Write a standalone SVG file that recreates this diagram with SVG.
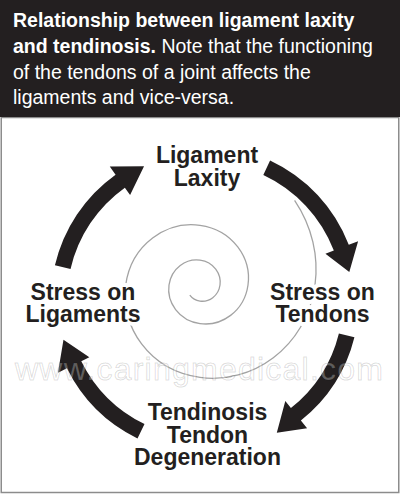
<svg xmlns="http://www.w3.org/2000/svg" width="400" height="494" viewBox="0 0 400 494">
  <style>
    .hdr { font-family: "Liberation Sans", Arial, sans-serif; font-size: 19.5px; fill: #ffffff; }
    .b { font-weight: bold; }
    .lbl { font-family: "Liberation Sans", Arial, sans-serif; font-size: 23px; font-weight: bold; fill: #231f20; text-anchor: middle; }
    .halo { stroke: #ffffff; stroke-width: 8; stroke-linejoin: round; paint-order: stroke; }
    .arrow { fill: #231f20; stroke: none; }
    .spiral { fill: none; stroke: #a3a3a3; stroke-width: 1.3; }
    .wm { font-family: "Liberation Sans", Arial, sans-serif; font-size: 32px; fill: #ffffff; fill-opacity: 0.3; stroke: #000000; stroke-opacity: 0.14; stroke-width: 1; }
  </style>

  <rect x="0" y="0" width="400" height="494" fill="#ffffff"/>
  <rect x="1.25" y="117.5" width="397.5" height="375" fill="#ffffff" stroke="#8c8c8c" stroke-width="1.5"/>

  <g id="header">
    <rect x="0" y="0" width="400" height="117" fill="#231f20"/>
    <text class="hdr" x="13" y="27"><tspan class="b">Relationship between ligament laxity</tspan><tspan x="13" dy="25.5" class="b">and tendinosis.</tspan> Note that the functioning<tspan x="13" dy="26">of the tendons of a joint affects the</tspan><tspan x="13" dy="25.5">ligaments and vice-versa.</tspan></text>
  </g>

  <path id="spiral" class="spiral" d="M189.8,295.2 C192.1,298.3 195.7,300.5 200,301.1 C208.9,302.3 218.5,296.1 220,285 C221.5,274 213.8,262 200,260.1 C186.3,258.2 171.4,267.9 169,285 C166.6,302.1 178.7,320.6 200,323.6 C221.3,326.6 244.3,311.5 248,285 C251.7,258.5 233,229.9 200,225.3 C167,220.7 131.4,244 125.7,285 C120,326 149,370.3 200,377.4 C251,384.5 306.2,348.5 315,285 C318.9,256.7 312.2,226.5 294.6,200.3"/>

  <g id="connectors">
    <path id="arrow-laxity-to-tendons" class="arrow" d="M270.08,160.43 A154,154 0 0,1 348.77,244.81 L358.11,241.22 L349.3,271.95 L325.43,253.77 L333.84,250.54 A138,138 0 0,0 263.32,174.93 Z"/>
    <path id="arrow-tendons-to-tendinosis" class="arrow" d="M354.43,337.25 A154,154 0 0,1 300.87,420.52 L307.09,428.35 L276.8,432.8 L285.3,400.96 L290.91,408 A138,138 0 0,0 338.9,333.38 Z"/>
    <path id="arrow-tendinosis-to-ligaments" class="arrow" d="M137.49,438.42 A154,154 0 0,1 66.94,368.24 L57.97,372.67 L63.48,339.78 L89.35,357.16 L81.28,361.15 A138,138 0 0,0 144.5,424.03 Z"/>
    <path id="arrow-ligaments-to-laxity" class="arrow" d="M54.94,265.35 A154,154 0 0,1 115.57,174.63 L109.77,166.49 L144.04,166.23 L130.09,194.98 L124.86,187.65 A138,138 0 0,0 70.53,268.95 Z"/>
  </g>

  <g id="node-ligament-laxity">
    <text class="lbl" x="207" y="162.5">Ligament<tspan x="207" dy="23">Laxity</tspan></text>
  </g>
  <g id="node-stress-tendons">
    <text class="lbl halo" x="322.5" y="300">Stress on<tspan x="322.5" dy="22">Tendons</tspan></text>
  </g>
  <g id="node-tendinosis">
    <text class="lbl" x="207.5" y="420">Tendinosis<tspan x="207.5" dy="23">Tendon</tspan><tspan x="207.5" dy="22">Degeneration</tspan></text>
  </g>
  <g id="node-stress-ligaments">
    <text class="lbl halo" x="83" y="300">Stress on<tspan x="83" dy="22">Ligaments</tspan></text>
  </g>

  <text id="watermark" class="wm" x="15" y="380" textLength="368" lengthAdjust="spacing">www.caringmedical.com</text>
</svg>
